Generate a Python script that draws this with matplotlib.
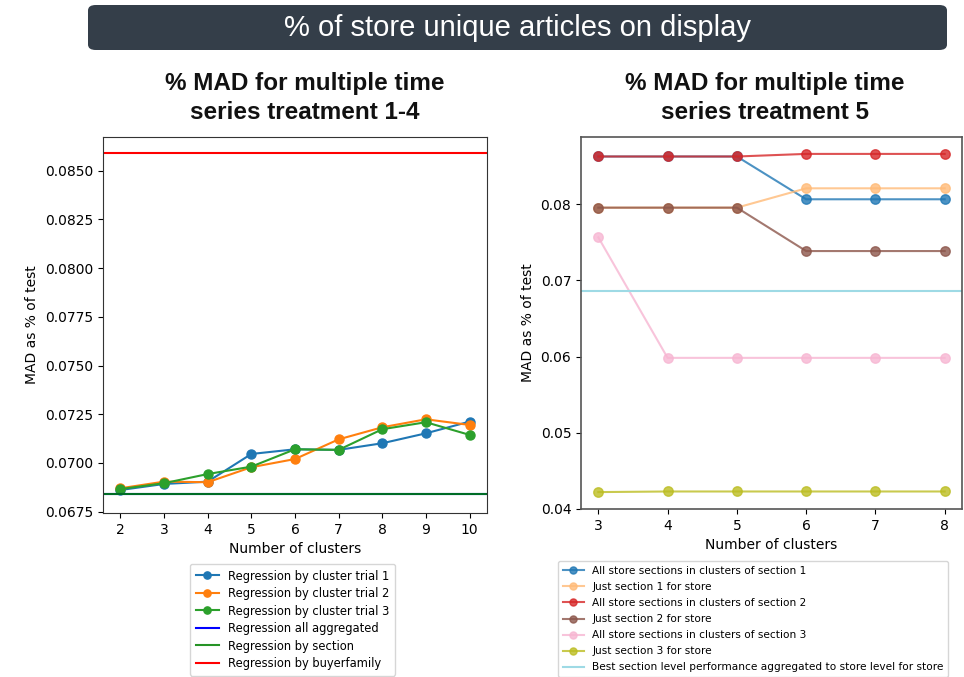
import matplotlib.pyplot as plt
from matplotlib.patches import FancyBboxPatch

# left panel: treatments 1-4
clusters_left = [2, 3, 4, 5, 6, 7, 8, 9, 10]
trial1 = [0.06861, 0.06892, 0.06904, 0.07046, 0.07070, 0.07067, 0.07101, 0.07152, 0.07212]
trial2 = [0.06870, 0.06904, 0.06901, 0.06978, 0.07020, 0.07121, 0.07183, 0.07224, 0.07195]
trial3 = [0.06866, 0.06896, 0.06943, 0.06981, 0.07070, 0.07067, 0.07173, 0.07209, 0.07144]
all_aggregated = 0.06841
by_section = 0.06841
by_buyerfamily = 0.08589

# right panel: treatment 5
clusters_right = [3, 4, 5, 6, 7, 8]
sec1_all = [0.08628, 0.08628, 0.08628, 0.08066, 0.08066, 0.08066]
sec1_just = [0.07956, 0.07956, 0.07956, 0.08210, 0.08210, 0.08210]
sec2_all = [0.08628, 0.08628, 0.08628, 0.08662, 0.08662, 0.08662]
sec2_just = [0.07956, 0.07956, 0.07956, 0.07386, 0.07386, 0.07386]
sec3_all = [0.07566, 0.05983, 0.05983, 0.05983, 0.05983, 0.05983]
sec3_just = [0.04220, 0.04228, 0.04228, 0.04228, 0.04228, 0.04228]
best_section = 0.06855

W, H = 964, 677
fig = plt.figure(figsize=(W/100, H/100), dpi=100)

# banner
banner = FancyBboxPatch((88/W, 1-50/H), (947-88)/W, 45/H,
                        boxstyle="round,pad=0,rounding_size=0.008",
                        transform=fig.transFigure, facecolor="#343e49",
                        edgecolor="none")
fig.patches.append(banner)
fig.text(517/W, 1-28/H, "% of store unique articles on display", color="white",
         fontsize=21, family="Liberation Sans", ha="center", va="center")

fig.text(305/W, 1-98/H, "% MAD for multiple time\nseries treatment 1-4", fontsize=17.5,
         family="Liberation Sans", weight="bold", ha="center", va="center",
         linespacing=1.3, color="#111111")
fig.text(765/W, 1-98/H, "% MAD for multiple time\nseries treatment 5", fontsize=17.5,
         family="Liberation Sans", weight="bold", ha="center", va="center",
         linespacing=1.3, color="#111111")

# left axes
ax1 = fig.add_axes([103/W, 1-513/H, 384/W, 376/H])
ax1.plot(clusters_left, trial1, marker="o", ms=6.5, color="#1f77b4", label="Regression by cluster trial 1")
ax1.plot(clusters_left, trial2, marker="o", ms=6.5, color="#ff7f0e", label="Regression by cluster trial 2")
ax1.plot(clusters_left, trial3, marker="o", ms=6.5, color="#2ca02c", label="Regression by cluster trial 3")
ax1.axhline(all_aggregated, color="b", lw=1.5, label="Regression all aggregated")
ax1.axhline(by_section, color="g", lw=1.5, alpha=0.85, label="Regression by section")
ax1.axhline(by_buyerfamily, color="r", lw=1.5, label="Regression by buyerfamily")
ax1.set_xlim(1.6, 10.4)
ax1.set_ylim(0.06743, 0.08673)
ax1.set_yticks([0.0675, 0.0700, 0.0725, 0.0750, 0.0775, 0.0800, 0.0825, 0.0850])
ax1.set_xticks(clusters_left)
ax1.set_xlabel("Number of clusters")
ax1.set_ylabel("MAD as % of test")
for s in ax1.spines.values():
    s.set_color("#333333")
fig.legend(handles=ax1.get_lines(), loc="upper left", bbox_to_anchor=(184/W, 1-558/H),
           fontsize=8.3, frameon=True, borderpad=0.5, handlelength=2.0,
           labelspacing=0.39, markerscale=0.8)

# right axes
ax2 = fig.add_axes([581/W, 1-509/H, 381/W, 372/H])
kw = dict(marker="o", ms=6.8, lw=1.5, alpha=0.8)
ax2.plot(clusters_right, sec1_all, color="#1f77b4", label="All store sections in clusters of section 1", **kw)
ax2.plot(clusters_right, sec1_just, color="#ffbb78", label="Just section 1 for store", **kw)
ax2.plot(clusters_right, sec2_all, color="#d62728", label="All store sections in clusters of section 2", **kw)
ax2.plot(clusters_right, sec2_just, color="#8c564b", label="Just section 2 for store", **kw)
ax2.plot(clusters_right, sec3_all, color="#f7b6d2", label="All store sections in clusters of section 3", **kw)
ax2.plot(clusters_right, sec3_just, color="#bcbd22", label="Just section 3 for store", **kw)
ax2.axhline(best_section, color="#9edae5", lw=1.5,
            label="Best section level performance aggregated to store level for store")
ax2.set_xticks(clusters_right)
ax2.set_yticks([0.04, 0.05, 0.06, 0.07, 0.08])
ax2.set_xlabel("Number of clusters")
ax2.set_ylabel("MAD as % of test")
for s in ax2.spines.values():
    s.set_color("#555555")
    s.set_linewidth(1.2)
fig.legend(handles=ax2.get_lines(), loc="upper left", bbox_to_anchor=(553/W, 1-556/H),
           fontsize=7.55, frameon=True, borderpad=0.45, handlelength=2.0,
           labelspacing=0.58, markerscale=0.75)

fig.savefig("out.png", dpi=100)
